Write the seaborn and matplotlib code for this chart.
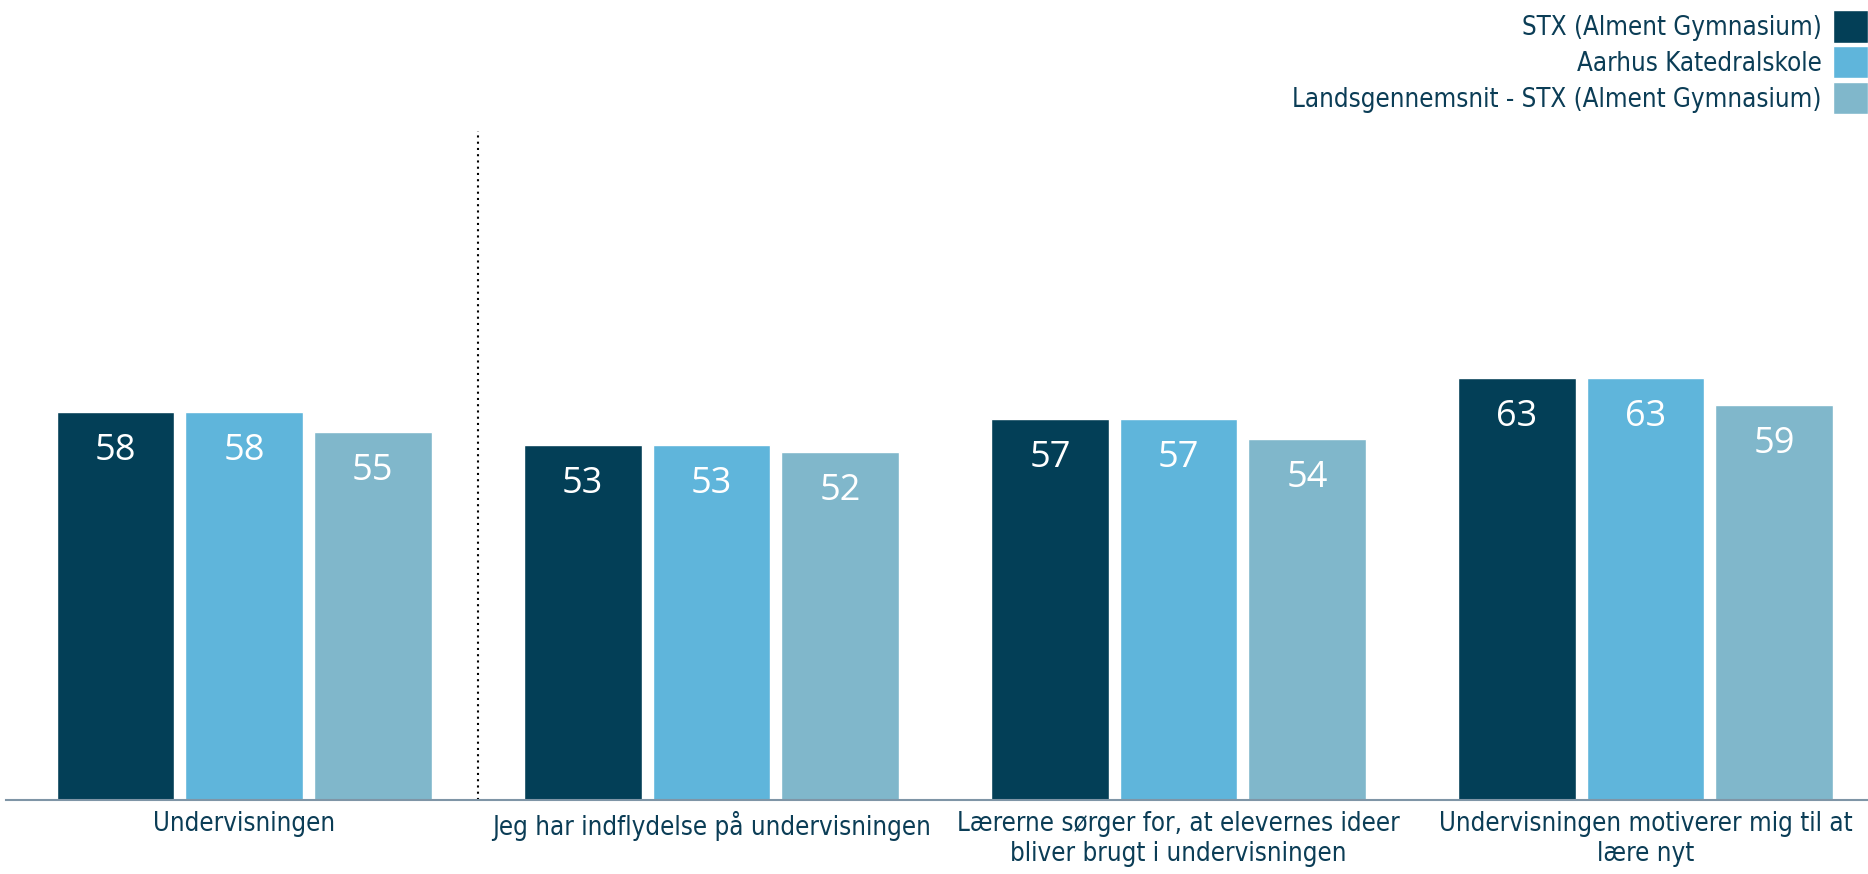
import pandas as pd
import seaborn as sns
import matplotlib.pyplot as plt

# Data
categories = [
    "Undervisningen",
    "Jeg har indflydelse på undervisningen",
    "Lærerne sørger for, at elevernes ideer\nbliver brugt i undervisningen",
    "Undervisningen motiverer mig til at\nlære nyt",
]
series = ["STX (Alment Gymnasium)", "Aarhus Katedralskole", "Landsgennemsnit - STX (Alment Gymnasium)"]
stx = [58, 53, 57, 63]
aarhus = [58, 53, 57, 63]
lands = [55, 52, 54, 59]

colors = ["#033f57", "#5fb5db", "#80b7cb"]
text_col = "#0b3d56"

rows = []
for name, vals in zip(series, [stx, aarhus, lands]):
    for cat, v in zip(categories, vals):
        rows.append({"Kategori": cat, "Serie": name, "Værdi": v})
df = pd.DataFrame(rows)

sns.set_style("white")
plt.rcParams["font.family"] = ["DejaVu Sans"]
plt.rcParams["font.stretch"] = "condensed"

fig = plt.figure(figsize=(18.68, 8.74), dpi=100)
ax = fig.add_axes([0.0032, 0.085, 0.9968, 0.765])

sns.barplot(data=df, x="Kategori", y="Værdi", hue="Serie", order=categories,
            hue_order=series, palette=colors, width=0.826, gap=0.085,
            saturation=1, ax=ax, legend=True)

# Value labels inside the bars
for cont in ax.containers:
    for bar in cont:
        h = bar.get_height()
        ax.annotate(f"{h:.0f}", (bar.get_x() + bar.get_width() / 2, h),
                    xytext=(0, -39), textcoords="offset pixels",
                    ha="center", va="center", color="white", fontsize=26,
                    family="Open Sans", fontstretch="normal")

ax.set_ylim(0, 100)
ax.set_xlim(-0.51, 3.476)
ax.axvline(0.5, color="black", linestyle=(0, (1, 2)), linewidth=1.5)

ax.set_xlabel("")
ax.set_ylabel("")
ax.set_yticks([])
for s in ["top", "right", "left"]:
    ax.spines[s].set_visible(False)
ax.spines["bottom"].set_color("#7f95a6")
ax.spines["bottom"].set_linewidth(1.5)
ax.tick_params(axis="x", length=0, pad=8, labelsize=18.5, labelcolor=text_col)

leg = ax.legend(loc="upper right", bbox_to_anchor=(1.0, 0.988), bbox_transform=fig.transFigure,
                frameon=False, markerfirst=False, fontsize=18.5, handlelength=1.35,
                handleheight=1.55, labelspacing=0.14, handletextpad=0.45, borderaxespad=0.0,
                borderpad=0.0)
for t in leg.get_texts():
    t.set_color(text_col)

fig.savefig("out.png", dpi=100)
